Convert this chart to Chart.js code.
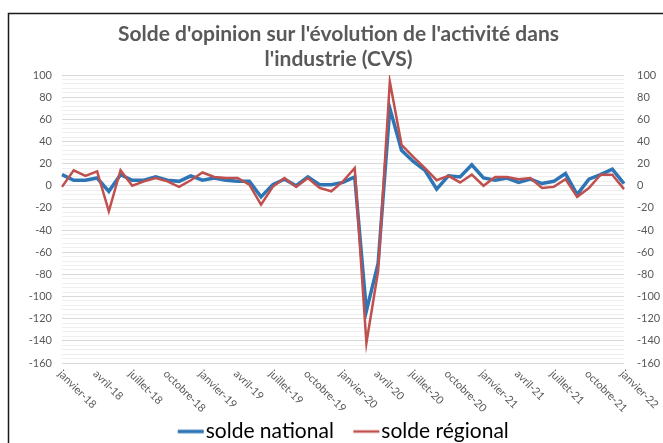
<!DOCTYPE html>
<html>
<head>
<meta charset="utf-8">
<script src="https://cdn.jsdelivr.net/npm/chart.js@4/dist/chart.umd.min.js"></script>
<style>
  body { margin: 0; background: #fff; }
  #wrap { width: 663px; height: 443px; }
</style>
</head>
<body>
<div id="wrap"><canvas id="myChart" width="663" height="443"></canvas></div>
<script>
// months / years used for the category labels
var mois = ['janvier','février','mars','avril','mai','juin','juillet','août','septembre','octobre','novembre','décembre'];
var annees = ['18','19','20','21','22'];
var categories = [];
for (var a = 0; a < annees.length; a++) {
  for (var m = 0; m < 12; m++) {
    if (a === annees.length - 1 && m > 0) break;
    categories.push(mois[m] + '-' + annees[a]);
  }
}

// solde national (blue) and solde régional (red), monthly, janv-18 .. janv-22
var soldeNational = [10,5,5,7,-5,10,5,5,8,5,4,9,
                     5,7,5,4,4,-10,1,6,0,8,1,1,
                     3,8,-113,-70,70,32,22,14,-3,9,8,19,
                     7,5,7,3,6,2,4,11,-8,6,10,15,
                     2];
var soldeRegional = [-1,14,9,13,-23,14,0,4,7,4,-1,5,
                     12,8,7,7,1,-17,-1,7,-1,7,-2,-5,
                     4,16,-142,-77,94,37,26,16,5,9,3,10,
                     0,8,8,6,7,-2,-1,6,-10,-2,10,10,
                     -3];

var yMin = -160, yMax = 100;

var grey = '#595959';
var bleu = '#2E75B6', rouge = '#C0504D';

// small line swatch for the legend, drawn on the right part of the image
// so the text sits close to it (like excel)
function swatch(col, w) {
  var cv = document.createElement('canvas');
  cv.width = 46; cv.height = 8;
  var c = cv.getContext('2d');
  c.strokeStyle = col;
  c.lineWidth = w;
  c.beginPath();
  c.moveTo(19, 4);
  c.lineTo(45, 4);
  c.stroke();
  return cv;
}

var frame = {
  id: 'frame',
  beforeDraw: function(chart) {
    var c = chart.ctx;
    c.save();
    c.fillStyle = '#fff';
    c.fillRect(0, 0, chart.width, chart.height);
    c.strokeStyle = '#1a1a1a';
    c.lineWidth = 1.5;
    c.beginPath();
    c.moveTo(8.5, chart.height);
    c.lineTo(8.5, 13.5);
    c.lineTo(chart.width, 13.5);
    c.stroke();
    c.restore();
  }
};

// x labels go down to the right from the tick, like in the excel chart
var xLabels = {
  id: 'xLabels',
  afterDraw: function(chart) {
    var c = chart.ctx, sx = chart.scales.x;
    c.save();
    c.font = '11px Lato';
    c.fillStyle = grey;
    c.textAlign = 'left';
    c.textBaseline = 'middle';
    for (var i = 0; i < categories.length; i += 3) {
      var x = sx.getPixelForValue(i);
      c.save();
      c.translate(x - 2, chart.chartArea.bottom + 9);
      c.rotate(Math.PI / 4);
      c.fillText(categories[i], 0, 0);
      c.restore();
    }
    c.restore();
  }
};

function yTick(v) { return v % 20 === 0 ? v : ''; }
function gridCol(ctx) {
  return (ctx.tick && ctx.tick.value % 20 === 0) ? '#d9d9d9' : '#efefef';
}

var ctx = document.getElementById('myChart').getContext('2d');
var myChart = new Chart(ctx, {
  type: 'line',
  data: {
    labels: categories,
    datasets: [{
      label: 'solde national',
      data: soldeNational,
      borderColor: bleu,
      backgroundColor: bleu,
      borderWidth: 3.5,
      pointRadius: 0,
      pointStyle: swatch(bleu, 3.5),
      tension: 0,
      order: 1
    }, {
      label: 'solde régional',
      data: soldeRegional,
      borderColor: rouge,
      backgroundColor: rouge,
      borderWidth: 2.5,
      pointRadius: 0,
      pointStyle: swatch(rouge, 2.5),
      tension: 0,
      order: 0
    }]
  },
  options: {
    responsive: false,
    animation: false,
    layout: { padding: { left: 14, right: 0, top: 0, bottom: -9 } },
    plugins: {
      title: {
        display: true,
        text: ["Solde d'opinion sur l'évolution de l'activité dans", "l'industrie (CVS)"],
        color: grey,
        font: { family: 'Lato', size: 21, weight: 'bold', lineHeight: '25px' },
        padding: { top: 22, bottom: 3 }
      },
      legend: {
        position: 'bottom',
        labels: {
          color: '#000',
          font: { family: 'Lato', size: 21 },
          usePointStyle: true,
          pointStyleWidth: 27,
          padding: 10,
          sort: function(a, b) { return a.datasetIndex - b.datasetIndex; }
        }
      },
      tooltip: { enabled: false }
    },
    scales: {
      x: {
        offset: false,
        grid: { display: false },
        border: { display: false },
        ticks: { display: false },
        afterFit: function(s) { s.height = 48; }
      },
      y: {
        min: yMin, max: yMax,
        position: 'left',
        border: { display: false },
        grid: { color: gridCol, drawTicks: false },
        ticks: {
          stepSize: 4, autoSkip: false, padding: 10,
          color: grey, font: { family: 'Lato', size: 11 },
          callback: yTick
        },
        afterFit: function(s) { s.width = 48; }
      },
      y2: {
        min: yMin, max: yMax,
        position: 'right',
        border: { display: false },
        grid: { display: false, drawTicks: false },
        ticks: {
          stepSize: 4, autoSkip: false, padding: 13,
          color: grey, font: { family: 'Lato', size: 11 },
          callback: yTick
        },
        afterFit: function(s) { s.width = 39; }
      }
    }
  },
  plugins: [frame, xLabels]
});
</script>
</body>
</html>
